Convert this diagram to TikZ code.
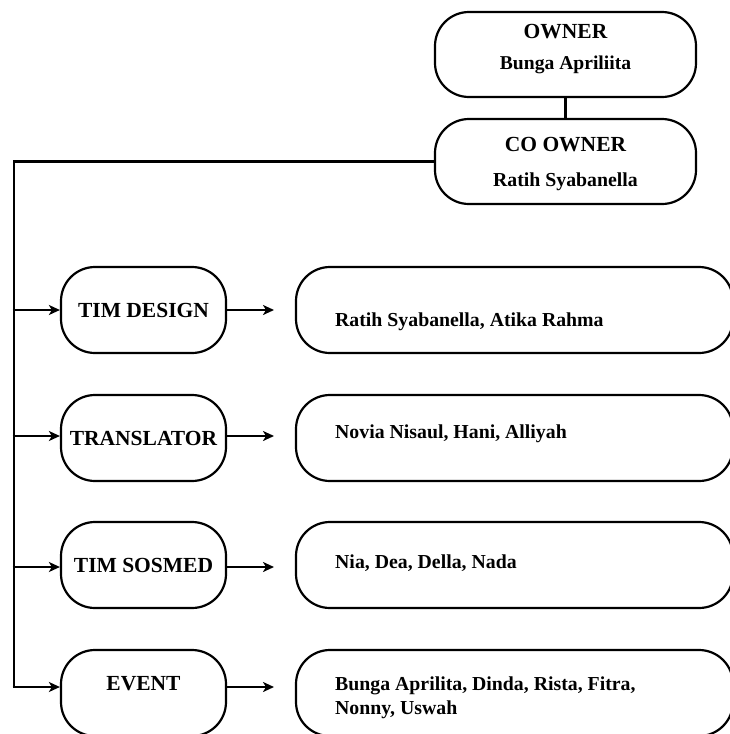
\documentclass[tikz,border=0pt]{standalone}
\usepackage{fontspec}
\setmainfont{Liberation Serif}
\usetikzlibrary{arrows.meta}
\begin{document}
\begin{tikzpicture}[x=1pt,y=-1pt,
  boxline/.style={draw=black,line width=2.2pt,rounded corners=34pt},
  topbox/.style={boxline,minimum width=261pt,minimum height=85pt,align=center,inner sep=0pt},
  teambox/.style={boxline,minimum width=165pt,minimum height=86pt,inner sep=0pt,
    font=\fontsize{21.5}{24}\selectfont\bfseries},
  detailbox/.style={boxline,minimum width=437pt,minimum height=86pt,inner sep=0pt},
  detailtext/.style={anchor=west,align=left,inner sep=0pt,
    font=\fontsize{19.8}{23.5}\selectfont\bfseries},
  conn/.style={line width=2.7pt},
  arr/.style={line width=2.7pt,-{Stealth[length=11pt,width=10pt,inset=3pt]}},
  titlefont/.style={font=\fontsize{21.5}{24}\selectfont\bfseries}
]
\useasboundingbox (0,0) rectangle (730,734);

% top boxes
\node[topbox] (owner) at (565.5,54.5) {};
\node[titlefont,inner sep=0pt] (ownert) at (565.5,32) {OWNER};
\node[font=\fontsize{19.6}{23}\selectfont\bfseries,inner sep=0pt] (ownern) at (565.5,65) {Bunga Apriliita};
\node[topbox] (co) at (565.5,161.5) {};
\node[titlefont,inner sep=0pt] (cot) at (565.5,145) {CO OWNER};
\node[font=\fontsize{19.8}{23}\selectfont\bfseries,inner sep=0pt] (con) at (565.5,182) {Ratih Syabanella};
\draw[conn] (owner.south) -- (co.north);

% team boxes
\node[teambox] (tdes) at (143.5,310) {TIM DESIGN};
\node[teambox] (trans) at (143.5,438) {TRANSLATOR};
\node[teambox] (sosmed) at (143.5,565) {TIM SOSMED};
\node[teambox] (event) at (143.5,693) {};
\node[teambox,draw=none,fill=none] (eventt) at (143.5,684) {EVENT};

% detail boxes
\node[detailbox] (d1) at (514.5,310) {};
\node[detailbox] (d2) at (514.5,438) {};
\node[detailbox] (d3) at (514.5,565) {};
\node[detailbox] (d4) at (514.5,693) {};
\node[detailtext] (t1) at (335,322) {Ratih Syabanella, Atika Rahma};
\node[detailtext] (t2) at (335,434) {Novia Nisaul, Hani, Alliyah};
\node[detailtext] (t3) at (335,563) {Nia, Dea, Della, Nada};
\node[detailtext] (t4) at (335,698) {Bunga Aprilita, Dinda, Rista, Fitra,\\Nonny, Uswah};

% trunk
\coordinate (b1) at (14,310);
\coordinate (b2) at (14,436);
\coordinate (b3) at (14,567);
\coordinate (b4) at (14,687);
\draw[conn] (co.west) -| ([yshift=1.3pt]b4);

\draw[arr] ([xshift=-1.3pt]b1) -- (tdes.west);
\draw[arr] ([xshift=-1.3pt]b2) -- (b2 -| trans.west);
\draw[arr] ([xshift=-1.3pt]b3) -- (b3 -| sosmed.west);
\draw[arr] ([xshift=-1.3pt]b4) -- (b4 -| event.west);

\coordinate (e1) at (274,310);
\coordinate (e2) at (274,436);
\coordinate (e3) at (274,567);
\coordinate (e4) at (274,687);
\draw[arr] (tdes.east) -- (e1);
\draw[arr] (e2 -| trans.east) -- (e2);
\draw[arr] (e3 -| sosmed.east) -- (e3);
\draw[arr] (e4 -| event.east) -- (e4);
\end{tikzpicture}
\end{document}
